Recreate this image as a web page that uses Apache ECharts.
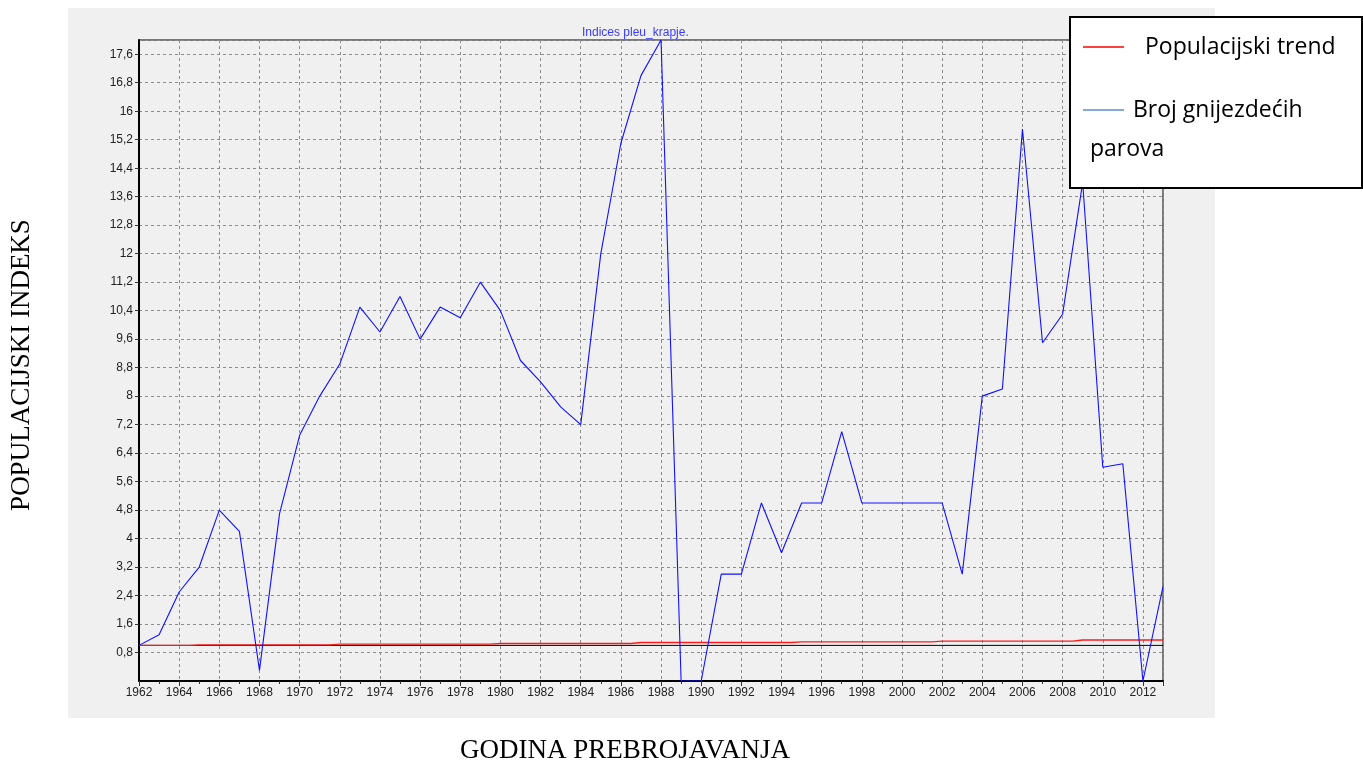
<!DOCTYPE html>
<html>
<head>
<meta charset="utf-8">
<script src="https://cdn.jsdelivr.net/npm/echarts@6/dist/echarts.min.js"></script>
<style>
html,body{margin:0;padding:0;background:#fff;}
#c{width:1363px;height:762px;}
</style>
</head>
<body>
<div id="c"></div>
<script>
// ---- data ----
const years = [1962,1963,1964,1965,1966,1967,1968,1969,1970,1971,1972,1973,1974,1975,1976,1977,1978,1979,1980,1981,1982,1983,1984,1985,1986,1987,1988,1989,1990,1991,1992,1993,1994,1995,1996,1997,1998,1999,2000,2001,2002,2003,2004,2005,2006,2007,2008,2009,2010,2011,2012,2013];
const brojParova = [1.0,1.3,2.5,3.2,4.8,4.2,0.3,4.7,6.9,8.0,8.9,10.5,9.8,10.8,9.6,10.5,10.2,11.2,10.4,9.0,8.4,7.7,7.2,12.0,15.1,17.0,18.0,0,0,3.0,3.0,5.0,3.6,5.0,5.0,7.0,5.0,5.0,5.0,5.0,5.0,3.0,8.0,8.2,15.5,9.5,10.3,14.0,6.0,6.1,0,2.65];
const populacijskiTrend = [1.0,1.0,1.0,1.015,1.015,1.015,1.015,1.015,1.015,1.015,1.035,1.035,1.035,1.035,1.035,1.035,1.035,1.035,1.055,1.055,1.055,1.055,1.055,1.055,1.055,1.08,1.08,1.08,1.08,1.08,1.08,1.08,1.08,1.10,1.10,1.10,1.10,1.10,1.10,1.10,1.12,1.12,1.12,1.12,1.12,1.12,1.12,1.15,1.15,1.15,1.15,1.15];
const referenceLevel = 1.0;
const titleText = 'Indices pleu_krapje.';
const seriesNames = ['Populacijski trend', 'Broj gnijezdećih parova'];
const yAxisTitle = 'POPULACIJSKI INDEKS';
const xAxisTitle = 'GODINA PREBROJAVANJA';

const chart = echarts.init(document.getElementById('c'));
const pairs = (vals) => years.map((y, i) => [y, vals[i]]);
const labelFont = 'Liberation Sans';
const gridLine = { show: true, lineStyle: { color: '#8c8c8c', type: [3, 3], width: 1 } };

chart.setOption({
  animation: false,
  backgroundColor: '#ffffff',
  title: {
    text: titleText,
    left: 577, top: 22,
    textStyle: { color: '#3a3aff', fontSize: 12, fontWeight: 'normal', fontFamily: labelFont }
  },
  grid: { left: 139, right: 200, top: 40, bottom: 81, outerBoundsMode: 'none', containLabel: false, show: true, borderColor: '#000', borderWidth: 1, backgroundColor: 'transparent' },
  xAxis: {
    type: 'value', min: 1962, max: 2013, interval: 2,
    name: xAxisTitle, nameLocation: 'middle', nameGap: 56,
    nameTextStyle: { fontFamily: 'Liberation Serif', fontSize: 27, color: '#000', padding: [0, 52, 0, 0] },
    axisLine: { show: true, onZero: false, lineStyle: { color: '#000', width: 2 } },
    axisTick: { show: true, length: 5, lineStyle: { color: '#333' } },
    minorTick: { show: true, splitNumber: 2, length: 3, lineStyle: { color: '#333' } },
    minorSplitLine: { show: false },
    axisLabel: { showMaxLabel: false, margin: 6, color: '#222', fontSize: 12, fontFamily: labelFont, formatter: v => String(v) },
    splitLine: gridLine
  },
  yAxis: {
    type: 'value', min: 0, max: 18, interval: 0.8,
    name: yAxisTitle, nameLocation: 'middle', nameGap: 104, nameRotate: 90,
    nameTextStyle: { fontFamily: 'Liberation Serif', fontSize: 27, color: '#000', padding: [0, 9, 0, 0] },
    axisLine: { show: true, onZero: false, lineStyle: { color: '#000', width: 2 } },
    axisTick: { show: true, length: 4, lineStyle: { color: '#333' } },
    minorTick: { show: false },
    minorSplitLine: { show: false },
    axisLabel: {
      showMinLabel: false, showMaxLabel: false, margin: 6, color: '#222', fontSize: 12, fontFamily: labelFont,
      formatter: v => { if (Math.abs(v) < 1e-9) return ''; return String(Math.round(v * 10) / 10).replace('.', ','); }
    },
    splitLine: gridLine
  },
  series: [
    {
      name: 'ref', type: 'line', data: [[years[0], referenceLevel], [2013, referenceLevel]],
      symbol: 'none', lineStyle: { color: '#000', width: 1 }, z: 2, silent: true
    },
    {
      name: seriesNames[0], type: 'line', step: 'middle', data: pairs(populacijskiTrend),
      symbol: 'none', lineStyle: { color: '#ff1a1a', width: 1.4 }, z: 3
    },
    {
      name: seriesNames[1], type: 'line', data: pairs(brojParova),
      symbol: 'none', lineStyle: { color: '#1010ff', width: 1.1 }, z: 4
    }
  ],
  graphic: [
    { type: 'rect', z: -100, silent: true, shape: { x: 68, y: 8, width: 1147, height: 710 }, style: { fill: '#f0f0f0' } },
    { type: 'rect', z: 100, silent: true, shape: { x: 1070, y: 17, width: 292, height: 171 }, style: { fill: '#fff', stroke: '#000', lineWidth: 2 } },
    { type: 'line', z: 101, silent: true, shape: { x1: 1083, y1: 47, x2: 1124, y2: 47 }, style: { stroke: '#ff0000', lineWidth: 1.5 } },
    { type: 'text', z: 101, silent: true, style: { x: 1145, y: 47, text: seriesNames[0], font: '23px "Open Sans"', fill: '#000', textVerticalAlign: 'middle' } },
    { type: 'line', z: 101, silent: true, shape: { x1: 1083, y1: 110, x2: 1124, y2: 110 }, style: { stroke: '#5b8fd6', lineWidth: 1.5 } },
    { type: 'text', z: 101, silent: true, style: { x: 1133, y: 110, text: 'Broj gnijezdećih', font: '23px "Open Sans"', fill: '#000', textVerticalAlign: 'middle' } },
    { type: 'text', z: 101, silent: true, style: { x: 1090, y: 149, text: 'parova', font: '23px "Open Sans"', fill: '#000', textVerticalAlign: 'middle' } }
  ]
});
</script>
</body>
</html>
